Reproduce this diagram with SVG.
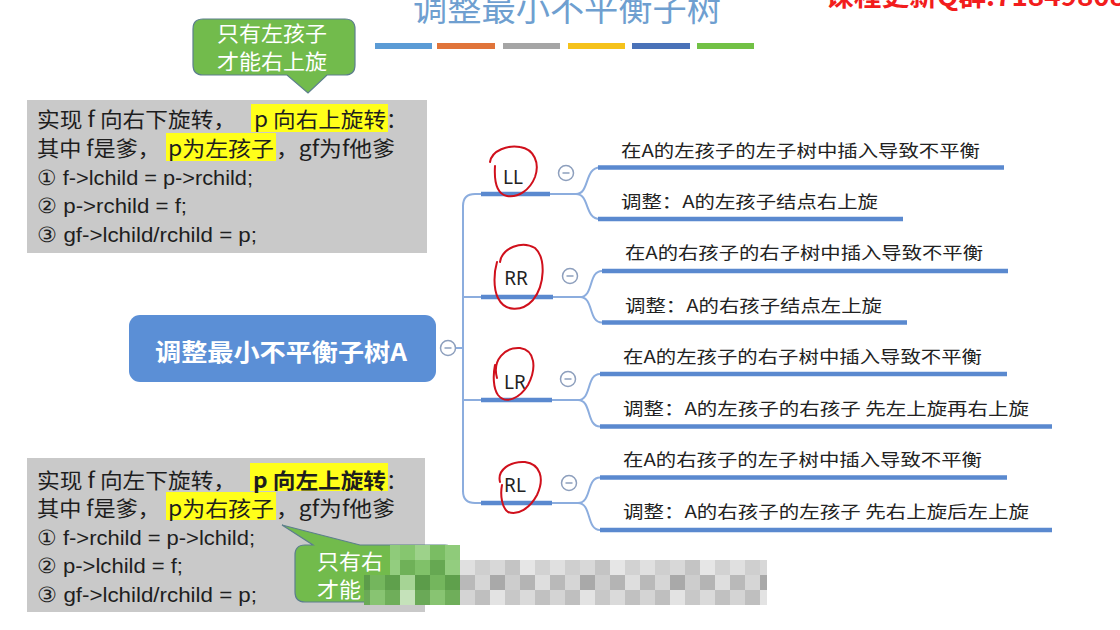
<svg xmlns="http://www.w3.org/2000/svg" width="1120" height="630" viewBox="0 0 1120 630">
<defs>
<style>
.cjk{font-family:"Noto Sans CJK SC","Noto Sans",sans-serif;}
.box{fill:#c9c9c9;}
.btxt{font-family:"Noto Sans CJK SC","Noto Sans",sans-serif;font-size:21px;fill:#1e1e1e;}
.code{font-family:"Liberation Sans","Noto Sans",sans-serif;font-size:21px;fill:#1e1e1e;}
.hl{fill:#ffff1a;}
.thin{fill:none;stroke:#8cadde;stroke-width:2;}
.thick{fill:none;stroke:#5a89cf;stroke-width:4.5;}
.lbl{font-family:"Noto Sans","Liberation Sans",sans-serif;font-size:19px;fill:#222;text-anchor:middle;}
.ctxt{font-family:"Noto Sans CJK SC","Noto Sans",sans-serif;font-size:17px;fill:#222;}
.col{fill:#fff;stroke:#8d9fbd;stroke-width:1.5;}
.minus{stroke:#8d9fbd;stroke-width:1.5;}
.pen{fill:none;stroke:#d0101c;stroke-width:2;stroke-linecap:round;}
.bub{fill:#72bb4c;stroke:#5c7f8c;stroke-width:1.2;}
.bubt{font-family:"Noto Sans CJK SC",sans-serif;font-size:21px;fill:#fff;}
</style>
<pattern id="pix" x="460" y="560" width="90" height="45" patternUnits="userSpaceOnUse">
<rect x="0" y="0" width="15" height="15" fill="#e0e0e0"/><rect x="15" y="0" width="15" height="15" fill="#cfcfcf"/><rect x="30" y="0" width="15" height="15" fill="#d8d8d8"/><rect x="45" y="0" width="15" height="15" fill="#c4c4c4"/><rect x="60" y="0" width="15" height="15" fill="#e6e6e6"/><rect x="75" y="0" width="15" height="15" fill="#d2d2d2"/>
<rect x="0" y="15" width="15" height="15" fill="#b9b9b9"/><rect x="15" y="15" width="15" height="15" fill="#d6d6d6"/><rect x="30" y="15" width="15" height="15" fill="#a9a9a9"/><rect x="45" y="15" width="15" height="15" fill="#cdcdcd"/><rect x="60" y="15" width="15" height="15" fill="#b4b4b4"/><rect x="75" y="15" width="15" height="15" fill="#dedede"/>
<rect x="0" y="30" width="15" height="15" fill="#d4d4d4"/><rect x="15" y="30" width="15" height="15" fill="#bfbfbf"/><rect x="30" y="30" width="15" height="15" fill="#e3e3e3"/><rect x="45" y="30" width="15" height="15" fill="#c8c8c8"/><rect x="60" y="30" width="15" height="15" fill="#dadada"/><rect x="75" y="30" width="15" height="15" fill="#c1c1c1"/>
</pattern>
<pattern id="gpix" x="340" y="545" width="60" height="60" patternUnits="userSpaceOnUse">
<rect x="0" y="0" width="15" height="15" fill="#86c66f"/><rect x="15" y="0" width="15" height="15" fill="#9dd28a"/><rect x="30" y="0" width="15" height="15" fill="#7abd63"/><rect x="45" y="0" width="15" height="15" fill="#8fcb7a"/>
<rect x="0" y="15" width="15" height="15" fill="#6fb158"/><rect x="15" y="15" width="15" height="15" fill="#80c169"/><rect x="30" y="15" width="15" height="15" fill="#66a852"/><rect x="45" y="15" width="15" height="15" fill="#93cd7f"/>
<rect x="0" y="30" width="15" height="15" fill="#a6d495"/><rect x="15" y="30" width="15" height="15" fill="#5c9c4a"/><rect x="30" y="30" width="15" height="15" fill="#74b65d"/><rect x="45" y="30" width="15" height="15" fill="#5fa04c"/>
<rect x="0" y="45" width="15" height="15" fill="#c5e2ba"/><rect x="15" y="45" width="15" height="15" fill="#6aa957"/><rect x="30" y="45" width="15" height="15" fill="#88c472"/><rect x="45" y="45" width="15" height="15" fill="#6fae5a"/>
</pattern>
</defs>
<rect width="1120" height="630" fill="#ffffff"/>

<g id="title">
<text class="cjk" x="413" y="21" font-size="34" fill="#6f9fd0" textLength="308" lengthAdjust="spacingAndGlyphs">调整最小不平衡子树</text>
<rect x="375" y="43" width="57" height="6" fill="#5b9bd5"/>
<rect x="437" y="43" width="58" height="6" fill="#e0743a"/>
<rect x="503" y="43" width="57" height="6" fill="#a5a5a5"/>
<rect x="568" y="43" width="57" height="6" fill="#f5c21b"/>
<rect x="632" y="43" width="58" height="6" fill="#4a72b8"/>
<rect x="697" y="43" width="57" height="6" fill="#72c145"/>
</g>
<text class="cjk" x="826" y="6" font-size="26" font-weight="bold" fill="#f21d1d" textLength="300" lengthAdjust="spacingAndGlyphs">课程更新Q群:71849808</text>

<g id="note-top">
<rect class="box" x="27" y="100" width="400" height="153"/>
<rect class="hl" x="251" y="104" width="137" height="28"/>
<rect class="hl" x="166" y="133" width="110" height="28"/>
<text class="btxt" x="37" y="127" textLength="199" lengthAdjust="spacingAndGlyphs">实现 f 向右下旋转，</text>
<text class="btxt" x="254" y="127" textLength="132" lengthAdjust="spacingAndGlyphs">p 向右上旋转</text>
<text class="btxt" x="386" y="127">：</text>
<text class="btxt" x="37" y="156" textLength="123" lengthAdjust="spacingAndGlyphs">其中 f是爹，</text>
<text class="btxt" x="168" y="156" textLength="106" lengthAdjust="spacingAndGlyphs">p为左孩子</text>
<text class="btxt" x="276" y="156" textLength="119" lengthAdjust="spacingAndGlyphs">，gf为f他爹</text>
<text class="code" x="37" y="185" textLength="216" lengthAdjust="spacingAndGlyphs">① f-&gt;lchild = p-&gt;rchild;</text>
<text class="code" x="37" y="213" textLength="150" lengthAdjust="spacingAndGlyphs">② p-&gt;rchild = f;</text>
<text class="code" x="37" y="242" textLength="220" lengthAdjust="spacingAndGlyphs">③ gf-&gt;lchild/rchild = p;</text>
</g>

<g id="bubble-top">
<path class="bub" d="M203,19 H345 Q355,19 355,29 V65 Q355,75 345,75 H327 L308,93 L287,75 H203 Q193,75 193,65 V29 Q193,19 203,19 Z"/>
<text class="bubt" x="217" y="41" textLength="110" lengthAdjust="spacingAndGlyphs">只有左孩子</text>
<text class="bubt" x="217" y="69" textLength="110" lengthAdjust="spacingAndGlyphs">才能右上旋</text>
</g>

<g id="note-bottom">
<rect class="box" x="27" y="458" width="398" height="154"/>
<rect class="hl" x="250" y="463" width="138" height="28"/>
<rect class="hl" x="166" y="492" width="110" height="28"/>
<text class="btxt" x="37" y="488" textLength="199" lengthAdjust="spacingAndGlyphs">实现 f 向左下旋转，</text>
<text class="btxt" x="253" y="488" font-weight="bold" textLength="133" lengthAdjust="spacingAndGlyphs">p 向左上旋转</text>
<text class="btxt" x="386" y="488">：</text>
<text class="btxt" x="37" y="516" textLength="123" lengthAdjust="spacingAndGlyphs">其中 f是爹，</text>
<text class="btxt" x="168" y="516" textLength="106" lengthAdjust="spacingAndGlyphs">p为右孩子</text>
<text class="btxt" x="276" y="516" textLength="119" lengthAdjust="spacingAndGlyphs">，gf为f他爹</text>
<text class="code" x="37" y="545" textLength="218" lengthAdjust="spacingAndGlyphs">① f-&gt;rchild = p-&gt;lchild;</text>
<text class="code" x="37" y="573" textLength="146" lengthAdjust="spacingAndGlyphs">② p-&gt;lchild = f;</text>
<text class="code" x="37" y="602" textLength="220" lengthAdjust="spacingAndGlyphs">③ gf-&gt;lchild/rchild = p;</text>
</g>

<g id="bubble-bottom">
<path class="bub" d="M305,545 H313 L282,525 L360,545 H445 Q455,545 455,555 V592 Q455,602 445,602 H305 Q295,602 295,592 V555 Q295,545 305,545 Z"/>
<text class="bubt" x="317" y="569" font-size="20" textLength="66" lengthAdjust="spacingAndGlyphs">只有右</text>
<text class="bubt" x="317" y="597" font-size="20" textLength="44" lengthAdjust="spacingAndGlyphs">才能</text>
<rect x="390" y="545" width="70" height="30" fill="url(#gpix)"/>
<rect x="364" y="575" width="96" height="30" fill="url(#gpix)"/>
<rect x="460" y="560" width="307" height="45" fill="url(#pix)"/>
</g>

<g id="connectors">
<line class="thin" x1="455.5" y1="348" x2="463" y2="348"/>
<path class="thin" d="M463,492 V206 Q463,194 475,194 H578"/>
<path class="thin" d="M463,491 Q463,503 475,503 H578"/>
<line class="thin" x1="463" y1="297" x2="580" y2="297"/>
<line class="thin" x1="463" y1="400" x2="578" y2="400"/>
<path class="thin" d="M576,194 C590,194 584,167.5 600,167.5 M576,194 C590,194 584,219 600,219"/>
<path class="thin" d="M580,297 C594,297 588,271 602,271 M580,297 C594,297 588,322.5 602,322.5"/>
<path class="thin" d="M578,400 C592,400 586,374 600,374 M578,400 C592,400 586,426.5 600,426.5"/>
<path class="thin" d="M578,503 C592,503 586,477.5 600,477.5 M578,503 C592,503 586,530 600,530"/>
<line class="thick" x1="481" y1="194" x2="550" y2="194"/>
<line class="thick" x1="481" y1="297" x2="553" y2="297"/>
<line class="thick" x1="481" y1="400" x2="552" y2="400"/>
<line class="thick" x1="481" y1="503" x2="552" y2="503"/>
<line class="thick" x1="598" y1="167.5" x2="1004" y2="167.5"/>
<line class="thick" x1="598" y1="219" x2="903" y2="219"/>
<line class="thick" x1="602" y1="271" x2="1008" y2="271"/>
<line class="thick" x1="602" y1="322.5" x2="907" y2="322.5"/>
<line class="thick" x1="600" y1="374" x2="1007" y2="374"/>
<line class="thick" x1="600" y1="426.5" x2="1052" y2="426.5"/>
<line class="thick" x1="600" y1="477.5" x2="1007" y2="477.5"/>
<line class="thick" x1="600" y1="530" x2="1052" y2="530"/>
</g>

<g id="root">
<rect x="129" y="315" width="307" height="67" rx="11" fill="#5b8fd6"/>
<text class="cjk" x="155" y="361" font-size="24" font-weight="bold" fill="#ffffff" textLength="252" lengthAdjust="spacingAndGlyphs">调整最小不平衡子树A</text>
<circle class="col" cx="448" cy="348" r="7.5"/><line class="minus" x1="444.5" y1="348" x2="451.5" y2="348"/>
</g>

<g id="LL">
<text class="lbl" x="513" y="184">LL</text>
<circle class="col" cx="566" cy="173" r="7.5"/><line class="minus" x1="562.5" y1="173" x2="569.5" y2="173"/>
<text class="ctxt" x="621" y="156.5" textLength="359" lengthAdjust="spacingAndGlyphs">在A的左孩子的左子树中插入导致不平衡</text>
<text class="ctxt" x="621" y="207.5" textLength="257" lengthAdjust="spacingAndGlyphs">调整：A的左孩子结点右上旋</text>
</g>
<g id="RR">
<text class="lbl" x="516" y="285">RR</text>
<circle class="col" cx="570" cy="276" r="7.5"/><line class="minus" x1="566.5" y1="276" x2="573.5" y2="276"/>
<text class="ctxt" x="625" y="259" textLength="358" lengthAdjust="spacingAndGlyphs">在A的右孩子的右子树中插入导致不平衡</text>
<text class="ctxt" x="625" y="312" textLength="257" lengthAdjust="spacingAndGlyphs">调整：A的右孩子结点左上旋</text>
</g>
<g id="LR">
<text class="lbl" x="515" y="389">LR</text>
<circle class="col" cx="568" cy="379" r="7.5"/><line class="minus" x1="564.5" y1="379" x2="571.5" y2="379"/>
<text class="ctxt" x="623" y="363" textLength="359" lengthAdjust="spacingAndGlyphs">在A的左孩子的右子树中插入导致不平衡</text>
<text class="ctxt" x="623" y="415" textLength="406" lengthAdjust="spacingAndGlyphs">调整：A的左孩子的右孩子 先左上旋再右上旋</text>
</g>
<g id="RL">
<text class="lbl" x="515" y="492">RL</text>
<circle class="col" cx="569" cy="483" r="7.5"/><line class="minus" x1="565.5" y1="483" x2="572.5" y2="483"/>
<text class="ctxt" x="623" y="466" textLength="359" lengthAdjust="spacingAndGlyphs">在A的右孩子的左子树中插入导致不平衡</text>
<text class="ctxt" x="623" y="518" textLength="406" lengthAdjust="spacingAndGlyphs">调整：A的右孩子的左孩子 先右上旋后左上旋</text>
</g>

<g id="pen-marks">
<path class="pen" d="M490,162 C492,150 508,145 520,147 C534,149 540,163 535,177 C530,190 518,198 507,196 C497,194 494,182 495,166"/>
<path class="pen" d="M500,262 C502,248 522,240 535,248 C546,258 545,285 533,300 C522,312 505,312 498,298 C493,288 494,272 497,262"/>
<path class="pen" d="M497,378 C492,360 505,347 520,348 C535,350 537,368 528,385 C520,398 506,405 498,395 C493,388 493,375 495,365"/>
<path class="pen" d="M500,482 C497,470 510,461 525,462 C540,464 545,478 537,495 C530,508 518,516 508,512 C502,508 500,495 502,485"/>
</g>
</svg>
